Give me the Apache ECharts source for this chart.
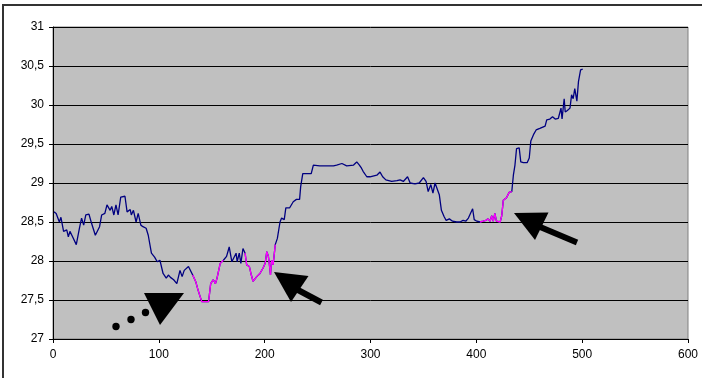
<!DOCTYPE html>
<html>
<head>
<meta charset="utf-8">
<script src="https://cdn.jsdelivr.net/npm/echarts@6/dist/echarts.min.js"></script>
<style>
  html, body { margin: 0; padding: 0; background: #fff; }
  #main { width: 702px; height: 378px; }
</style>
</head>
<body>
<div id="main"></div>
<script>
// x positions and prices
let xs = [1, 3, 6, 7.5, 10, 13, 14.5, 16, 18.5, 22, 25, 27, 29, 31, 34, 36.5, 40, 44, 46, 49,
  51, 54, 55.5, 57.5, 59.5, 61.5, 64, 68, 70, 73, 74, 76, 78.5, 80.5, 83, 85, 88, 90, 93, 96,
  98.5, 101, 104, 107, 109, 111, 114, 117, 120, 122, 124, 128, 132, 135, 137, 140.5, 143.5, 147, 149, 151.5,
  153.5, 155, 158, 161, 164, 166.5, 169, 170.5, 173, 174, 176, 177.5, 179.5, 181.5, 183, 185.5, 187, 189, 192.5, 195.5,
  198.5, 200.5, 202, 203.5, 204.5, 205.5, 206.5, 208, 210, 212, 214.5, 216, 218.5, 220, 223.5, 227, 230, 233, 234, 236,
  244, 246, 252, 265, 268, 273, 277.5, 284, 287, 289.5, 291.5, 293, 296.5, 299.5, 306, 309, 311.5, 314.5, 320, 325,
  328, 331, 335, 337.5, 342, 346, 350, 352.5, 354.5, 357, 359, 361, 362.5, 365, 367, 369.5, 371.5, 374.5, 377.5, 381.5,
  384.5, 387.5, 390, 392.5, 394, 396.5, 398, 400.5, 403.5, 406.5, 409, 411, 413, 414.5, 416, 417.5, 419, 422.5, 424, 425.5,
  428.5, 431, 433.5, 435, 436.5, 438, 440.5, 442, 444.5, 448, 450, 451.5, 454, 456.5, 460, 465, 466.5, 469.5, 472, 474.5,
  477.5, 480, 481, 483, 484, 486, 488.5, 490, 491.5, 493, 495, 496.5, 498.5, 500.5]
let ys = [28.63, 28.61, 28.50, 28.56, 28.38, 28.40, 28.31, 28.38, 28.31, 28.21, 28.42, 28.55, 28.46, 28.59, 28.60, 28.48, 28.33, 28.44, 28.59, 28.61,
  28.72, 28.65, 28.70, 28.59, 28.72, 28.59, 28.82, 28.83, 28.63, 28.66, 28.59, 28.65, 28.50, 28.61, 28.46, 28.44, 28.42, 28.33, 28.10, 28.05,
  27.99, 28.01, 27.84, 27.78, 27.82, 27.79, 27.76, 27.71, 27.88, 27.80, 27.88, 27.93, 27.82, 27.73, 27.63, 27.48, 27.48, 27.48, 27.71, 27.76,
  27.71, 27.78, 27.97, 28.01, 28.06, 28.18, 27.99, 27.97, 28.10, 27.99, 28.10, 27.97, 28.16, 28.10, 27.95, 27.93, 27.84, 27.74, 27.80, 27.84,
  27.91, 27.97, 28.12, 28.06, 27.95, 27.82, 28.01, 27.95, 28.21, 28.29, 28.50, 28.55, 28.53, 28.68, 28.68, 28.76, 28.79, 28.79, 28.95, 29.12,
  29.12, 29.23, 29.22, 29.22, 29.23, 29.25, 29.22, 29.23, 29.27, 29.23, 29.19, 29.15, 29.08, 29.08, 29.10, 29.14, 29.08, 29.04, 29.02, 29.03,
  29.04, 29.02, 29.08, 29.00, 28.99, 29.00, 29.07, 29.02, 28.89, 28.98, 28.87, 29.00, 28.98, 28.85, 28.65, 28.57, 28.52, 28.54, 28.51, 28.50,
  28.50, 28.52, 28.51, 28.55, 28.53, 28.67, 28.53, 28.51, 28.50, 28.51, 28.52, 28.54, 28.51, 28.58, 28.51, 28.61, 28.51, 28.50, 28.58, 28.78,
  28.81, 28.88, 28.89, 29.10, 29.23, 29.44, 29.45, 29.27, 29.26, 29.26, 29.32, 29.54, 29.62, 29.68, 29.70, 29.73, 29.81, 29.82, 29.85, 29.82,
  29.83, 29.96, 29.82, 30.08, 29.91, 29.93, 29.96, 30.13, 30.08, 30.21, 30.05, 30.30, 30.45, 30.46]

// stretches drawn in magenta
let hlStart = [132, 181.5, 403.5]
let hlEnd = [161, 210, 433.5]

let xTicks = [0, 100, 200, 300, 400, 500, 600]
let yTicks = [27, 27.5, 28, 28.5, 29, 29.5, 30, 30.5, 31]

let mainData = xs.map((x, i) => [x, ys[i]])
let hlData = []
hlStart.forEach((s, k) => {
  if (k > 0) hlData.push([null, null])
  xs.forEach((x, i) => {
    if (x >= s && x <= hlEnd[k]) hlData.push([x, ys[i]])
  })
})

let myChart = echarts.init(document.getElementById('main'))
let lbl = { color: '#000', fontFamily: 'Liberation Sans', fontSize: 12 }

let option = {
  animation: false,
  backgroundColor: '#fff',
  grid: {
    left: 53, right: 14, top: 27, bottom: 39,
    show: true,
    backgroundColor: '#c0c0c0',
    borderColor: '#808080',
    borderWidth: 1
  },
  xAxis: {
    type: 'value',
    min: xTicks[0], max: xTicks[xTicks.length - 1], interval: 100,
    axisLine: { onZero: false, lineStyle: { color: '#000', width: 1 } },
    axisTick: { show: true, length: 4, lineStyle: { color: '#000' } },
    axisLabel: Object.assign({ margin: 10 }, lbl),
    splitLine: { show: false }
  },
  yAxis: {
    type: 'value',
    min: yTicks[0], max: yTicks[yTicks.length - 1], interval: 0.5,
    axisLine: { show: true, lineStyle: { color: '#000', width: 1 } },
    axisTick: { show: true, length: 4, lineStyle: { color: '#000' } },
    axisLabel: Object.assign({
      margin: 9,
      formatter: v => String(v).replace('.', ',')
    }, lbl),
    splitLine: { show: true, lineStyle: { color: '#000', width: 1 } }
  },
  series: [
    {
      type: 'line',
      data: mainData,
      showSymbol: false,
      lineStyle: { color: '#000080', width: 1.3 },
      z: 2
    },
    {
      type: 'line',
      data: hlData,
      showSymbol: false,
      connectNulls: false,
      lineStyle: { color: '#ff00ff', width: 1.3 },
      z: 3
    }
  ],
  graphic: [
    { type: 'rect', shape: { x: 3, y: 5, width: 720, height: 400 },
      style: { fill: null, stroke: '#333', lineWidth: 2 }, z: 100 },
    // dots and first arrow head
    { type: 'circle', shape: { cx: 116, cy: 326.5, r: 3.7 }, style: { fill: '#000' }, z: 100 },
    { type: 'circle', shape: { cx: 131, cy: 319.5, r: 3.7 }, style: { fill: '#000' }, z: 100 },
    { type: 'circle', shape: { cx: 145.5, cy: 312.5, r: 3.7 }, style: { fill: '#000' }, z: 100 },
    { type: 'polygon', shape: { points: [[144, 293], [184, 293], [160, 325]] }, style: { fill: '#000' }, z: 100 },
    // second arrow
    { type: 'polygon', shape: { points: [[274, 272], [308.5, 276], [291, 302]] }, style: { fill: '#000' }, z: 100 },
    { type: 'line', shape: { x1: 298, y1: 290, x2: 321.5, y2: 302.5 }, style: { stroke: '#000', lineWidth: 6 }, z: 100 },
    // third arrow
    { type: 'polygon', shape: { points: [[514, 213], [548.5, 212.5], [535, 240]] }, style: { fill: '#000' }, z: 100 },
    { type: 'line', shape: { x1: 539, y1: 226.5, x2: 577, y2: 242.5 }, style: { stroke: '#000', lineWidth: 6 }, z: 100 }
  ]
}
myChart.setOption(option)
</script>
</body>
</html>
